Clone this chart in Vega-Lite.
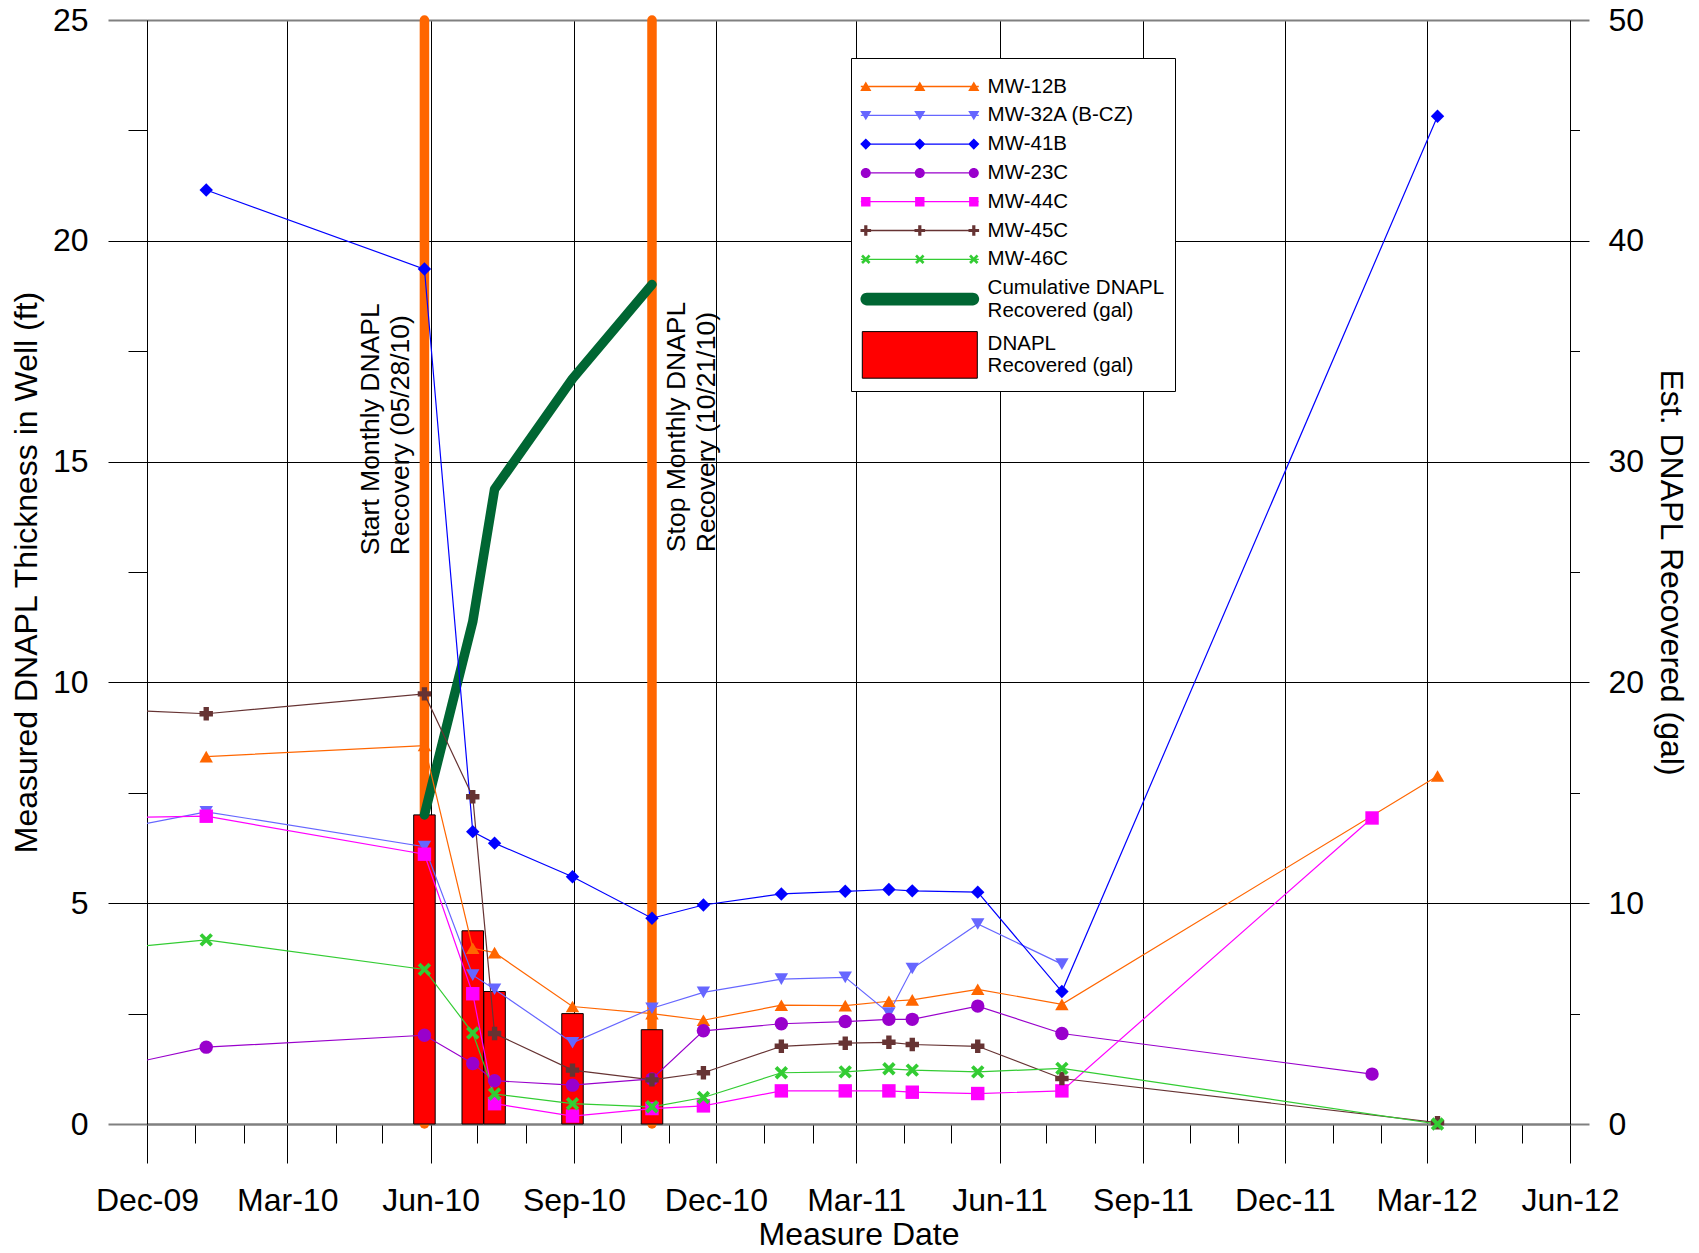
{
  "$schema": "https://vega.github.io/schema/vega-lite/v6.json",
  "width": 1423,
  "height": 1104,
  "autosize": {"type": "none"},
  "padding": {"left": 147, "top": 20, "right": 129, "bottom": 129},
  "background": "white",
  "config": {
    "view": {"stroke": null},
    "font": "Liberation Sans",
    "axis": {"labelFont": "Liberation Sans", "titleFont": "Liberation Sans", "labelColor": "#000000", "titleColor": "#000000", "titleFontWeight": "normal", "labelFlush": false, "labelOverlap": false, "labelBound": false}
  },
  "datasets": {
    "wells": [
      {"well": "MW-12B", "date": "2010-01-08", "ft": 8.32},
      {"well": "MW-12B", "date": "2010-05-28", "ft": 8.57},
      {"well": "MW-12B", "date": "2010-06-28", "ft": 3.98},
      {"well": "MW-12B", "date": "2010-07-12", "ft": 3.88},
      {"well": "MW-12B", "date": "2010-08-31", "ft": 2.66},
      {"well": "MW-12B", "date": "2010-10-21", "ft": 2.50},
      {"well": "MW-12B", "date": "2010-11-23", "ft": 2.35},
      {"well": "MW-12B", "date": "2011-01-12", "ft": 2.69},
      {"well": "MW-12B", "date": "2011-02-22", "ft": 2.68},
      {"well": "MW-12B", "date": "2011-03-22", "ft": 2.78},
      {"well": "MW-12B", "date": "2011-04-06", "ft": 2.81},
      {"well": "MW-12B", "date": "2011-05-18", "ft": 3.05},
      {"well": "MW-12B", "date": "2011-07-11", "ft": 2.71},
      {"well": "MW-12B", "date": "2012-03-08", "ft": 7.88},
      {"well": "MW-32A (B-CZ)", "date": "2009-11-01", "ft": 6.60},
      {"well": "MW-32A (B-CZ)", "date": "2010-01-08", "ft": 7.07},
      {"well": "MW-32A (B-CZ)", "date": "2010-05-28", "ft": 6.28},
      {"well": "MW-32A (B-CZ)", "date": "2010-06-28", "ft": 3.37},
      {"well": "MW-32A (B-CZ)", "date": "2010-07-12", "ft": 3.05},
      {"well": "MW-32A (B-CZ)", "date": "2010-08-31", "ft": 1.84},
      {"well": "MW-32A (B-CZ)", "date": "2010-10-21", "ft": 2.62},
      {"well": "MW-32A (B-CZ)", "date": "2010-11-23", "ft": 2.98},
      {"well": "MW-32A (B-CZ)", "date": "2011-01-12", "ft": 3.28},
      {"well": "MW-32A (B-CZ)", "date": "2011-02-22", "ft": 3.32},
      {"well": "MW-32A (B-CZ)", "date": "2011-03-22", "ft": 2.51},
      {"well": "MW-32A (B-CZ)", "date": "2011-04-06", "ft": 3.52},
      {"well": "MW-32A (B-CZ)", "date": "2011-05-18", "ft": 4.53},
      {"well": "MW-32A (B-CZ)", "date": "2011-07-11", "ft": 3.62},
      {"well": "MW-41B", "date": "2010-01-08", "ft": 21.15},
      {"well": "MW-41B", "date": "2010-05-28", "ft": 19.36},
      {"well": "MW-41B", "date": "2010-06-28", "ft": 6.62},
      {"well": "MW-41B", "date": "2010-07-12", "ft": 6.36},
      {"well": "MW-41B", "date": "2010-08-31", "ft": 5.60},
      {"well": "MW-41B", "date": "2010-10-21", "ft": 4.66},
      {"well": "MW-41B", "date": "2010-11-23", "ft": 4.96},
      {"well": "MW-41B", "date": "2011-01-12", "ft": 5.21},
      {"well": "MW-41B", "date": "2011-02-22", "ft": 5.27},
      {"well": "MW-41B", "date": "2011-03-22", "ft": 5.31},
      {"well": "MW-41B", "date": "2011-04-06", "ft": 5.28},
      {"well": "MW-41B", "date": "2011-05-18", "ft": 5.25},
      {"well": "MW-41B", "date": "2011-07-11", "ft": 3.00},
      {"well": "MW-41B", "date": "2012-03-08", "ft": 22.82},
      {"well": "MW-23C", "date": "2009-11-01", "ft": 1.22},
      {"well": "MW-23C", "date": "2010-01-08", "ft": 1.74},
      {"well": "MW-23C", "date": "2010-05-28", "ft": 2.01},
      {"well": "MW-23C", "date": "2010-06-28", "ft": 1.37},
      {"well": "MW-23C", "date": "2010-07-12", "ft": 0.98},
      {"well": "MW-23C", "date": "2010-08-31", "ft": 0.88},
      {"well": "MW-23C", "date": "2010-10-21", "ft": 1.02},
      {"well": "MW-23C", "date": "2010-11-23", "ft": 2.11},
      {"well": "MW-23C", "date": "2011-01-12", "ft": 2.27},
      {"well": "MW-23C", "date": "2011-02-22", "ft": 2.32},
      {"well": "MW-23C", "date": "2011-03-22", "ft": 2.37},
      {"well": "MW-23C", "date": "2011-04-06", "ft": 2.37},
      {"well": "MW-23C", "date": "2011-05-18", "ft": 2.67},
      {"well": "MW-23C", "date": "2011-07-11", "ft": 2.05},
      {"well": "MW-23C", "date": "2012-01-26", "ft": 1.13},
      {"well": "MW-44C", "date": "2009-11-01", "ft": 6.93},
      {"well": "MW-44C", "date": "2010-01-08", "ft": 6.97},
      {"well": "MW-44C", "date": "2010-05-28", "ft": 6.11},
      {"well": "MW-44C", "date": "2010-06-28", "ft": 2.95},
      {"well": "MW-44C", "date": "2010-07-12", "ft": 0.46},
      {"well": "MW-44C", "date": "2010-08-31", "ft": 0.18},
      {"well": "MW-44C", "date": "2010-10-21", "ft": 0.35},
      {"well": "MW-44C", "date": "2010-11-23", "ft": 0.41},
      {"well": "MW-44C", "date": "2011-01-12", "ft": 0.75},
      {"well": "MW-44C", "date": "2011-02-22", "ft": 0.75},
      {"well": "MW-44C", "date": "2011-03-22", "ft": 0.75},
      {"well": "MW-44C", "date": "2011-04-06", "ft": 0.72},
      {"well": "MW-44C", "date": "2011-05-18", "ft": 0.69},
      {"well": "MW-44C", "date": "2011-07-11", "ft": 0.75},
      {"well": "MW-44C", "date": "2012-01-26", "ft": 6.93},
      {"well": "MW-45C", "date": "2009-11-01", "ft": 9.40},
      {"well": "MW-45C", "date": "2010-01-08", "ft": 9.29},
      {"well": "MW-45C", "date": "2010-05-28", "ft": 9.74},
      {"well": "MW-45C", "date": "2010-06-28", "ft": 7.41},
      {"well": "MW-45C", "date": "2010-07-12", "ft": 2.05},
      {"well": "MW-45C", "date": "2010-08-31", "ft": 1.22},
      {"well": "MW-45C", "date": "2010-10-21", "ft": 1.00},
      {"well": "MW-45C", "date": "2010-11-23", "ft": 1.16},
      {"well": "MW-45C", "date": "2011-01-12", "ft": 1.76},
      {"well": "MW-45C", "date": "2011-02-22", "ft": 1.83},
      {"well": "MW-45C", "date": "2011-03-22", "ft": 1.85},
      {"well": "MW-45C", "date": "2011-04-06", "ft": 1.80},
      {"well": "MW-45C", "date": "2011-05-18", "ft": 1.76},
      {"well": "MW-45C", "date": "2011-07-11", "ft": 1.03},
      {"well": "MW-45C", "date": "2012-03-08", "ft": 0.03},
      {"well": "MW-46C", "date": "2009-11-01", "ft": 3.94},
      {"well": "MW-46C", "date": "2010-01-08", "ft": 4.17},
      {"well": "MW-46C", "date": "2010-05-28", "ft": 3.50},
      {"well": "MW-46C", "date": "2010-06-28", "ft": 2.06},
      {"well": "MW-46C", "date": "2010-07-12", "ft": 0.68},
      {"well": "MW-46C", "date": "2010-08-31", "ft": 0.46},
      {"well": "MW-46C", "date": "2010-10-21", "ft": 0.39},
      {"well": "MW-46C", "date": "2010-11-23", "ft": 0.60},
      {"well": "MW-46C", "date": "2011-01-12", "ft": 1.16},
      {"well": "MW-46C", "date": "2011-02-22", "ft": 1.18},
      {"well": "MW-46C", "date": "2011-03-22", "ft": 1.25},
      {"well": "MW-46C", "date": "2011-04-06", "ft": 1.22},
      {"well": "MW-46C", "date": "2011-05-18", "ft": 1.18},
      {"well": "MW-46C", "date": "2011-07-11", "ft": 1.26},
      {"well": "MW-46C", "date": "2012-03-08", "ft": 0.0}
    ],
    "recovery": [
      {"date": "2010-05-28", "gal": 14.0, "cum": 14.0},
      {"date": "2010-06-28", "gal": 8.75, "cum": 22.75},
      {"date": "2010-07-12", "gal": 6.0, "cum": 28.75},
      {"date": "2010-08-31", "gal": 5.0, "cum": 33.75},
      {"date": "2010-10-21", "gal": 4.27, "cum": 38.02}
    ],
    "events": [
      {"date": "2010-05-28"},
      {"date": "2010-10-21"}
    ],
    "legendItems": [
      {"item": "MW-12B"},
      {"item": "MW-32A (B-CZ)"},
      {"item": "MW-41B"},
      {"item": "MW-23C"},
      {"item": "MW-44C"},
      {"item": "MW-45C"},
      {"item": "MW-46C"},
      {"item": "Cumulative DNAPL|Recovered (gal)"},
      {"item": "DNAPL|Recovered (gal)"}
    ]
  },
  "layer": [
    {
      "layer": [
        {
          "data": {"name": "legendItems"},
          "mark": {"type": "point", "filled": true, "opacity": 1},
          "encoding": {
            "x": {"field": "date", "type": "temporal", "scale": {"type": "utc", "domain": [1259625600000, 1338508800000], "nice": false, "padding": 0}, "axis": null},
            "y": {"field": "gal", "type": "quantitative", "scale": {"domain": [0, 50], "nice": false}, "axis": null},
            "fill": {
              "field": "item", "type": "nominal",
              "scale": {"domain": ["MW-12B", "MW-32A (B-CZ)", "MW-41B", "MW-23C", "MW-44C", "MW-45C", "MW-46C", "Cumulative DNAPL|Recovered (gal)", "DNAPL|Recovered (gal)"],
                        "range": ["#FF6600", "#6666FF", "#0000FF", "#9900CC", "#FF00FF", "#663333", "#33CC33", "#006633", "#FF0000"]},
              "legend": {
                "orient": "none", "legendX": 704, "legendY": 38, "direction": "vertical",
                "title": " ", "titleFontSize": 1, "titlePadding": 7,
                "padding": 10, "strokeColor": "#000000", "fillColor": "#ffffff", "cornerRadius": 0,
                "symbolSize": 400, "symbolStrokeWidth": 1, "symbolOffset": 48.3, "symbolOpacity": 1,
                "labelOffset": 57.3, "labelFont": "Liberation Sans", "labelFontSize": 20.5, "labelColor": "#000000", "labelLimit": 400,
                "rowPadding": 7.8,
                "labelExpr": "split(datum.label, '|')"
              }
            },
            "stroke": {
              "field": "item", "type": "nominal",
              "scale": {"domain": ["MW-12B", "MW-32A (B-CZ)", "MW-41B", "MW-23C", "MW-44C", "MW-45C", "MW-46C", "Cumulative DNAPL|Recovered (gal)", "DNAPL|Recovered (gal)"],
                        "range": ["transparent", "transparent", "transparent", "transparent", "transparent", "transparent", "transparent", "transparent", "#000000"]}
            },
            "shape": {
              "field": "item", "type": "nominal",
              "scale": {"domain": ["MW-12B", "MW-32A (B-CZ)", "MW-41B", "MW-23C", "MW-44C", "MW-45C", "MW-46C", "Cumulative DNAPL|Recovered (gal)", "DNAPL|Recovered (gal)"],
                        "range": [
                          "M-5.9,-0.065H5.9V0.065H-5.9Z M-5.4,-0.5L-4.84,0.44L-5.96,0.44Z M0,-0.5L0.56,0.44L-0.56,0.44Z M5.4,-0.5L5.96,0.44L4.84,0.44Z",
                          "M-5.9,-0.065H5.9V0.065H-5.9Z M-5.96,-0.44L-4.84,-0.44L-5.4,0.5Z M-0.56,-0.44L0.56,-0.44L0,0.5Z M4.84,-0.44L5.96,-0.44L5.4,0.5Z",
                          "M-5.9,-0.065H5.9V0.065H-5.9Z M-5.4,-0.56L-4.84,0L-5.4,0.56L-5.96,0Z M0,-0.56L0.56,0L0,0.56L-0.56,0Z M5.4,-0.56L5.96,0L5.4,0.56L4.84,0Z",
                          "M-5.9,-0.065H5.9V0.065H-5.9Z M-5.9,0A0.5,0.5 0 1,1 -4.9,0A0.5,0.5 0 1,1 -5.9,0Z M-0.5,0A0.5,0.5 0 1,1 0.5,0A0.5,0.5 0 1,1 -0.5,0Z M4.9,0A0.5,0.5 0 1,1 5.9,0A0.5,0.5 0 1,1 4.9,0Z",
                          "M-5.9,-0.065H5.9V0.065H-5.9Z M-5.87,-0.47H-4.93V0.47H-5.87Z M-0.47,-0.47H0.47V0.47H-0.47Z M4.93,-0.47H5.87V0.47H4.93Z",
                          "M-5.9,-0.065H5.9V0.065H-5.9Z M-5.56,-0.53H-5.24V-0.16H-4.87V0.16H-5.24V0.53H-5.56V0.16H-5.93V-0.16H-5.56Z M-0.16,-0.53H0.16V-0.16H0.53V0.16H0.16V0.53H-0.16V0.16H-0.53V-0.16H-0.16Z M5.24,-0.53H5.56V-0.16H5.93V0.16H5.56V0.53H5.24V0.16H4.87V-0.16H5.24Z",
                          "M-5.9,-0.065H5.9V0.065H-5.9Z M-5.682,-0.47L-5.4,-0.188L-5.118,-0.47L-4.93,-0.282L-5.212,0L-4.93,0.282L-5.118,0.47L-5.4,0.188L-5.682,0.47L-5.87,0.282L-5.588,0L-5.87,-0.282Z M-0.282,-0.47L0,-0.188L0.282,-0.47L0.47,-0.282L0.188,0L0.47,0.282L0.282,0.47L0,0.188L-0.282,0.47L-0.47,0.282L-0.188,0L-0.47,-0.282Z M5.118,-0.47L5.4,-0.188L5.682,-0.47L5.87,-0.282L5.588,0L5.87,0.282L5.682,0.47L5.4,0.188L5.118,0.47L4.93,0.282L5.212,0L4.93,-0.282Z",
                          "M-5.3,0.465H5.3A0.635,0.635 0 0,1 5.3,1.735H-5.3A0.635,0.635 0 0,1 -5.3,0.465Z",
                          "M-5.75,-1.23H5.75V3.43H-5.75Z"
                        ]}
            }
          }
        },
        {
          "data": {"name": "events"},
          "mark": {"type": "rule", "color": "#FF6600", "strokeWidth": 9.5, "strokeCap": "round"},
          "encoding": {
            "x": {"field": "date", "type": "temporal", "scale": {"type": "utc", "domain": [1259625600000, 1338508800000], "nice": false, "padding": 0}, "axis": null},
            "y": {"datum": 0, "type": "quantitative", "scale": {"domain": [0, 50], "nice": false}, "axis": null},
            "y2": {"datum": 50}
          }
        },
        {
          "data": {"name": "recovery"},
          "mark": {"type": "bar", "width": 21.5, "fill": "#FF0000", "stroke": "#000000", "strokeWidth": 1},
          "encoding": {
            "x": {"field": "date", "type": "temporal", "scale": {"type": "utc", "domain": [1259625600000, 1338508800000], "nice": false, "padding": 0},
                  "axis": {"orient": "bottom", "values": [1259625600000, 1262304000000, 1264982400000, 1267401600000, 1270080000000, 1272672000000, 1275350400000, 1277942400000, 1280620800000, 1283299200000, 1285891200000, 1288569600000, 1291161600000, 1293840000000, 1296518400000, 1298937600000, 1301616000000, 1304208000000, 1306886400000, 1309478400000, 1312156800000, 1314835200000, 1317427200000, 1320105600000, 1322697600000, 1325376000000, 1328054400000, 1330560000000, 1333238400000, 1335830400000, 1338508800000],
                           "grid": false, "labels": false, "domain": false, "ticks": true, "tickSize": 19, "tickColor": "#000000", "tickWidth": 1, "title": null}},
            "y": {"field": "gal", "type": "quantitative", "scale": {"domain": [0, 50], "nice": false},
                  "axis": {"orient": "right", "values": [0, 10, 20, 30, 40, 50], "grid": false, "domain": true, "domainColor": "#000000", "domainWidth": 1,
                           "tickSize": 19,
                           "tickColor": {"condition": {"test": "datum.value === 0 || datum.value === 50", "value": "#808080"}, "value": "#000000"},
                           "tickWidth": {"condition": {"test": "datum.value === 0 || datum.value === 50", "value": 2}, "value": 1},
                           "labelFontSize": 32, "labelPadding": 19,
                           "title": "Est. DNAPL Recovered (gal)", "titleFontSize": 32, "titlePadding": 10}}
          }
        },
        {
          "data": {"name": "recovery"},
          "mark": {"type": "line", "color": "#006633", "strokeWidth": 9.5, "strokeCap": "round", "strokeJoin": "round"},
          "encoding": {
            "x": {"field": "date", "type": "temporal", "scale": {"type": "utc", "domain": [1259625600000, 1338508800000], "nice": false, "padding": 0}, "axis": null},
            "y": {"field": "cum", "type": "quantitative", "scale": {"domain": [0, 50], "nice": false},
                  "axis": {"orient": "right", "values": [5, 15, 25, 35, 45], "grid": false, "labels": false, "domain": false, "tickSize": 9.5, "tickColor": "#000000", "tickWidth": 1, "title": null}}
          }
        }
      ],
      "resolve": {"axis": {"x": "independent", "y": "independent"}}
    },
    {
      "layer": [
        {
          "data": {"name": "wells"},
          "mark": {"type": "line", "strokeWidth": 1.2, "clip": true},
          "encoding": {
            "x": {"field": "date", "type": "temporal", "scale": {"type": "utc", "domain": [1259625600000, 1338508800000], "nice": false, "padding": 0},
                  "axis": {"orient": "bottom", "values": [1259625600000, 1267401600000, 1275350400000, 1283299200000, 1291161600000, 1298937600000, 1306886400000, 1314835200000, 1322697600000, 1330560000000, 1338508800000],
                  "format": "%b-%y", "grid": true, "gridColor": "#000000", "gridWidth": 1,
                  "tickSize": 39, "tickColor": "#000000", "tickWidth": 1,
                  "domain": true, "domainColor": "#808080", "domainWidth": 2,
                  "labelFontSize": 32, "labelPadding": 22,
                  "title": "Measure Date", "titleFontSize": 32, "titlePadding": 3}},
            "y": {"field": "ft", "type": "quantitative", "scale": {"domain": [0, 25], "nice": false},
                  "axis": {"orient": "left", "values": [0, 5, 10, 15, 20, 25], "grid": true,
                           "gridColor": {"condition": {"test": "datum.value === 0 || datum.value === 25", "value": "#808080"}, "value": "#000000"},
                           "gridWidth": {"condition": {"test": "datum.value === 0 || datum.value === 25", "value": 2}, "value": 1},
                           "tickSize": 39,
                           "tickColor": {"condition": {"test": "datum.value === 0 || datum.value === 25", "value": "#808080"}, "value": "#000000"},
                           "tickWidth": {"condition": {"test": "datum.value === 0 || datum.value === 25", "value": 2}, "value": 1},
                           "domain": true, "domainColor": "#000000", "domainWidth": 1,
                           "labelFontSize": 32, "labelPadding": 20,
                           "title": "Measured DNAPL Thickness in Well (ft)", "titleFontSize": 32, "titlePadding": 9}},
            "color": {"field": "well", "type": "nominal",
                      "scale": {"domain": ["MW-12B", "MW-32A (B-CZ)", "MW-41B", "MW-23C", "MW-44C", "MW-45C", "MW-46C"],
                                "range": ["#FF6600", "#6666FF", "#0000FF", "#9900CC", "#FF00FF", "#663333", "#33CC33"]},
                      "legend": null}
          }
        },
        {
          "data": {"name": "wells"},
          "transform": [{"filter": "time(datum.date) >= utc(2009, 11, 1)"}],
          "mark": {"type": "point", "filled": true, "size": 180, "opacity": 1},
          "encoding": {
            "x": {"field": "date", "type": "temporal", "scale": {"type": "utc", "domain": [1259625600000, 1338508800000], "nice": false, "padding": 0}, "axis": null},
            "y": {"field": "ft", "type": "quantitative", "scale": {"domain": [0, 25], "nice": false},
                  "axis": {"orient": "left", "values": [2.5, 7.5, 12.5, 17.5, 22.5], "grid": false, "labels": false, "domain": false, "tickSize": 19, "tickColor": "#000000", "tickWidth": 1, "title": null}},
            "color": {"field": "well", "type": "nominal",
                      "scale": {"domain": ["MW-12B", "MW-32A (B-CZ)", "MW-41B", "MW-23C", "MW-44C", "MW-45C", "MW-46C"],
                                "range": ["#FF6600", "#6666FF", "#0000FF", "#9900CC", "#FF00FF", "#663333", "#33CC33"]},
                      "legend": null},
            "shape": {"field": "well", "type": "nominal",
                      "scale": {"domain": ["MW-12B", "MW-32A (B-CZ)", "MW-41B", "MW-23C", "MW-44C", "MW-45C", "MW-46C"],
                                "range": ["triangle-up", "triangle-down", "diamond", "circle", "square", "cross", "M-0.6,-1L0,-0.4L0.6,-1L1,-0.6L0.4,0L1,0.6L0.6,1L0,0.4L-0.6,1L-1,0.6L-0.4,0L-1,-0.6Z"]},
                      "legend": null}
          }
        },
        {
          "data": {"values": [{"date": "2010-05-28", "ft": 12.88, "label": ["Start Monthly DNAPL", "Recovery (05/28/10)"]}]},
          "mark": {"type": "text", "angle": 270, "align": "left", "baseline": "middle", "dy": -53, "font": "Liberation Sans", "fontSize": 26.5, "lineHeight": 30, "color": "#000000"},
          "encoding": {
            "x": {"field": "date", "type": "temporal", "scale": {"type": "utc", "domain": [1259625600000, 1338508800000], "nice": false, "padding": 0}, "axis": null},
            "y": {"field": "ft", "type": "quantitative", "scale": {"domain": [0, 25], "nice": false}, "axis": null},
            "text": {"field": "label"}
          }
        },
        {
          "data": {"values": [{"date": "2010-10-21", "ft": 12.95, "label": ["Stop Monthly DNAPL", "Recovery (10/21/10)"]}]},
          "mark": {"type": "text", "angle": 270, "align": "left", "baseline": "middle", "dy": 25, "font": "Liberation Sans", "fontSize": 26.5, "lineHeight": 30, "color": "#000000"},
          "encoding": {
            "x": {"field": "date", "type": "temporal", "scale": {"type": "utc", "domain": [1259625600000, 1338508800000], "nice": false, "padding": 0}, "axis": null},
            "y": {"field": "ft", "type": "quantitative", "scale": {"domain": [0, 25], "nice": false}, "axis": null},
            "text": {"field": "label"}
          }
        }
      ],
      "resolve": {"axis": {"x": "independent", "y": "independent"}}
    }
  ],
  "resolve": {
    "scale": {"x": "independent", "y": "independent", "shape": "independent", "fill": "independent", "stroke": "independent"}
  }
}
